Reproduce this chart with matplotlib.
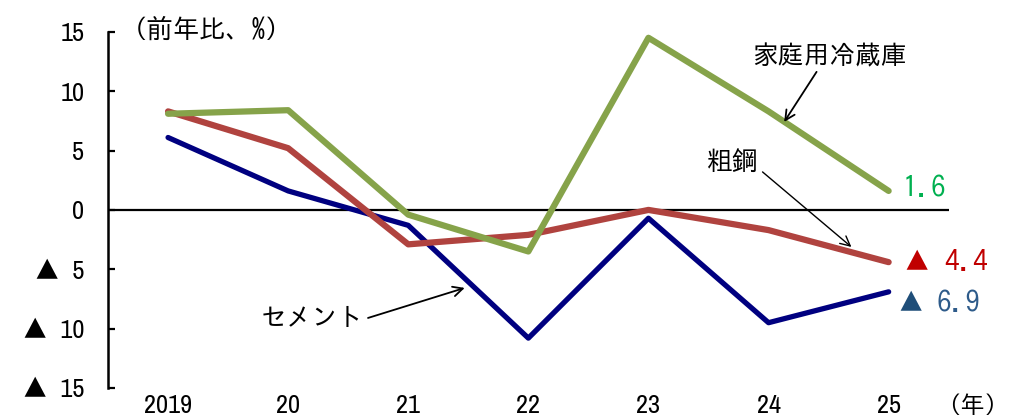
import matplotlib
matplotlib.use("Agg")
import matplotlib.pyplot as plt

years = ["2019", "20", "21", "22", "23", "24", "25"]
yticks = [15, 10, 5, 0, -5, -10, -15]
ytick_labels = ["15", "10", "5", "0", "▲  5", "▲  10", "▲  15"]

cement = [6.1, 1.6, -1.3, -10.8, -0.7, -9.5, -6.9]
steel = [8.3, 5.2, -2.9, -2.1, 0.0, -1.7, -4.4]
fridge = [8.1, 8.4, -0.4, -3.5, 14.5, 8.3, 1.6]

jp = ["IPAGothic", "Noto Sans CJK JP", "DejaVu Sans"]
num = ["Archivo Narrow", "IPAGothic", "DejaVu Sans"]
plt.rcParams["font.family"] = jp

fig = plt.figure(figsize=(10.19, 4.19), dpi=100)
ax = fig.add_axes([0.106, 0.074, 0.825, 0.85])

x = range(len(years))
ax.plot(x, cement, color="#000080", lw=3.8, solid_capstyle="round", zorder=3)
ax.plot(x, steel, color="#B0433F", lw=4.5, solid_capstyle="round", zorder=3)
ax.plot(x, fridge, color="#86A34A", lw=4.5, solid_capstyle="round", zorder=3)
ax.axhline(0, color="black", lw=1.6, zorder=2)

ax.set_xlim(-0.5, 6.5)
ax.set_ylim(-15, 15)
ax.set_yticks(yticks)
ax.set_yticklabels(ytick_labels, fontfamily=num, fontsize=19)
ax.set_xticks(list(x))
ax.set_xticklabels(years, fontfamily=num, fontsize=19)
ax.tick_params(axis="y", direction="in", length=5, width=1.6, pad=17)
ax.tick_params(axis="x", length=0, pad=4)
for s in ["top", "right", "bottom"]:
    ax.spines[s].set_visible(False)
ax.spines["left"].set_linewidth(1.8)

ax.text(0.015, 15.34, "（前年比、%）", fontsize=19, va="center", ha="left",
        transform=ax.get_yaxis_transform(), clip_on=False)
ax.text(6.70, -16.4, "（年）", fontsize=17.5, va="center", ha="center", clip_on=False)

arrow = "->,head_length=0.7,head_width=0.35"
ax.text(5.51, 13.06, "家庭用冷蔵庫", fontsize=18.5, ha="center", va="center")
ax.annotate("", xy=(5.13, 7.41), xytext=(5.40, 11.63),
            arrowprops=dict(arrowstyle=arrow, color="black", lw=1.3, shrinkA=0, shrinkB=0))
ax.text(4.70, 4.21, "粗鋼", fontsize=18.5, ha="center", va="center")
ax.annotate("", xy=(5.69, -3.12), xytext=(4.95, 3.20),
            arrowprops=dict(arrowstyle=arrow, color="black", lw=1.0, shrinkA=0, shrinkB=0))
ax.text(1.20, -9.10, "セメント", fontsize=18.5, ha="center", va="center")
ax.annotate("", xy=(2.47, -6.57), xytext=(1.665, -9.10),
            arrowprops=dict(arrowstyle=arrow, color="black", lw=1.3, shrinkA=0, shrinkB=0))

ax.text(6.12, 1.85, "1.6", color="#00B050", fontsize=21, va="center", ha="left", clip_on=False)
ax.text(6.12, -4.38, "▲", color="#C00000", fontsize=19, va="center", ha="left", clip_on=False)
ax.text(6.46, -4.38, "4.4", color="#C00000", fontsize=21, va="center", ha="left", clip_on=False)
ax.text(6.07, -7.83, "▲", color="#1F4E79", fontsize=19, va="center", ha="left", clip_on=False)
ax.text(6.40, -7.83, "6.9", color="#2E5B8A", fontsize=21, va="center", ha="left", clip_on=False)

fig.savefig("out.png", dpi=100)
plt.close(fig)
